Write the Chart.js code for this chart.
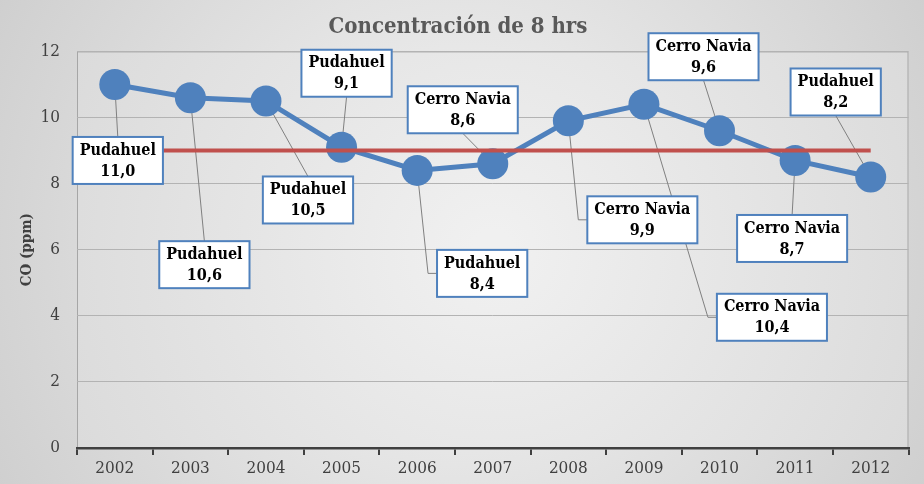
<!DOCTYPE html>
<html><head><meta charset="utf-8">
<script src="https://cdn.jsdelivr.net/npm/chart.js@4/dist/chart.umd.min.js"></script>
<style>html,body{margin:0;padding:0;background:#fff}#wrap{width:924px;height:484px}</style>
</head><body><div id="wrap"><canvas id="c" width="924" height="484"></canvas></div>
<script>
const years = ['2002','2003','2004','2005','2006','2007','2008','2009','2010','2011','2012'];
const coValues = [11.0, 10.6, 10.5, 9.1, 8.4, 8.6, 9.9, 10.4, 9.6, 8.7, 8.2];
const stations = ['Pudahuel','Pudahuel','Pudahuel','Pudahuel','Pudahuel','Cerro Navia','Cerro Navia','Cerro Navia','Cerro Navia','Cerro Navia','Pudahuel'];
const limitValues = [9, 9, 9, 9, 9, 9, 9, 9, 9, 9, 9];
const yTicks = [0, 2, 4, 6, 8, 10, 12];

// label box placement (pixel offset of box centre from its point) - style only
const labelOffsets = [[3,76],[14,167],[42,99],[5,-74],[65,103],[-30,-54],[74,99],[128,213],[-16,-74],[-3,78],[-35,-85]];

const SERIF = '"DejaVu Serif Condensed", "DejaVu Serif", serif';
const fmt = v => v.toFixed(1).replace('.', ',');

function boxFor(chart, i) {
  const meta = chart.getDatasetMeta(1);
  const p = meta.data[i];
  const ctx = chart.ctx;
  ctx.save();
  ctx.font = 'bold 16px ' + SERIF;
  const tw = Math.max(ctx.measureText(stations[i]).width, ctx.measureText(fmt(coValues[i])).width);
  ctx.restore();
  const w = tw + 14, h = 47;
  const cx = p.x + labelOffsets[i][0], cy = p.y + labelOffsets[i][1];
  return {p, x: cx - w / 2, y: cy - h / 2, w, h, cx, cy};
}

const bgPlugin = {
  id: 'bg',
  beforeDraw(chart) {
    const {ctx, width, height, chartArea: a} = chart;
    ctx.save();
    let g = ctx.createRadialGradient(width/2, height/2, 30, width/2, height/2, width*0.6);
    g.addColorStop(0, '#f3f3f3');
    g.addColorStop(1, '#cdcdcd');
    ctx.fillStyle = g;
    ctx.fillRect(0, 0, width, height);
    g = ctx.createRadialGradient((a.left+a.right)/2, (a.top+a.bottom)/2, 20, (a.left+a.right)/2, (a.top+a.bottom)/2, (a.right-a.left)*0.6);
    g.addColorStop(0, '#f0f0f0');
    g.addColorStop(1, '#d9d9d9');
    ctx.fillStyle = g;
    ctx.fillRect(a.left, a.top, a.right - a.left, a.bottom - a.top);
    ctx.strokeStyle = '#a6a6a6';
    ctx.lineWidth = 1;
    ctx.strokeRect(a.left + 0.5, a.top + 0.5, a.right - a.left - 1, a.bottom - a.top);
    ctx.restore();
  }
};

const labelPlugin = {
  id: 'callouts',
  beforeDatasetsDraw(chart) {
    const ctx = chart.ctx;
    ctx.save();
    ctx.strokeStyle = '#808080';
    ctx.lineWidth = 1;
    coValues.forEach((v, i) => {
      const b = boxFor(chart, i);
      const dx = b.cx - b.p.x;
      ctx.beginPath();
      ctx.moveTo(b.p.x, b.p.y);
      if (Math.abs(dx) > b.w / 2 + 4) {
        const edge = dx > 0 ? b.x : b.x + b.w;
        const elbow = edge - Math.sign(dx) * 9;
        ctx.lineTo(elbow, b.cy);
        ctx.lineTo(edge, b.cy);
      } else {
        const ey = b.cy > b.p.y ? b.y : b.y + b.h;
        ctx.lineTo(b.cx, ey);
      }
      ctx.stroke();
    });
    ctx.restore();
  },
  afterDatasetsDraw(chart) {
    const ctx = chart.ctx;
    ctx.save();
    coValues.forEach((v, i) => {
      const b = boxFor(chart, i);
      ctx.fillStyle = '#ffffff';
      ctx.fillRect(b.x, b.y, b.w, b.h);
      ctx.strokeStyle = '#4f81bd';
      ctx.lineWidth = 2;
      ctx.strokeRect(b.x, b.y, b.w, b.h);
      ctx.fillStyle = '#000000';
      ctx.font = 'bold 16px ' + SERIF;
      ctx.textAlign = 'center';
      ctx.textBaseline = 'middle';
      ctx.fillText(stations[i], b.cx, b.cy - 10);
      ctx.fillText(fmt(v), b.cx, b.cy + 11);
    });
    ctx.restore();
  }
};

new Chart(document.getElementById('c'), {
  type: 'line',
  data: {
    labels: years,
    datasets: [
      {
        label: 'Norma',
        data: limitValues,
        borderColor: '#c0504d',
        borderWidth: 4,
        pointRadius: 0,
        order: 0
      },
      {
        label: 'CO',
        data: coValues,
        borderColor: '#4f81bd',
        backgroundColor: '#4f81bd',
        borderWidth: 5,
        pointRadius: 15.5,
        pointBackgroundColor: '#4f81bd',
        pointBorderWidth: 0,
        order: 1
      }
    ]
  },
  options: {
    responsive: false,
    animation: false,
    devicePixelRatio: 1,
    layout: { padding: { left: 0, right: 8, top: 0, bottom: 0 } },
    plugins: {
      legend: { display: false },
      tooltip: { enabled: false },
      title: {
        display: true,
        text: 'Concentración de 8 hrs',
        color: '#595959',
        font: { family: SERIF, size: 22, weight: 'bold', lineHeight: 1.2 },
        padding: { top: 14, bottom: 11 }
      }
    },
    scales: {
      x: {
        offset: true,
        grid: { offset: true, drawOnChartArea: false, drawTicks: true, tickLength: 7, color: '#404040', lineWidth: 2 },
        border: { display: true, color: '#404040', width: 2.5 },
        ticks: { color: '#404040', font: { family: SERIF, size: 17 }, padding: 3, maxRotation: 0 },
        afterFit(s) { s.height = 36; }
      },
      y: {
        min: 0, max: 12,
        afterBuildTicks(s) { s.ticks = yTicks.map(v => ({ value: v })); },
        grid: { drawTicks: false, color: '#b3b3b3', lineWidth: 1 },
        border: { display: false },
        ticks: { color: '#404040', font: { family: SERIF, size: 17 }, padding: 17 },
        title: { display: true, text: 'CO (ppm)', color: '#404040', font: { family: SERIF, size: 15, weight: 'bold' }, padding: { top: 18, bottom: 0 } },
        afterFit(s) { s.width = 77; }
      }
    }
  },
  plugins: [bgPlugin, labelPlugin]
});
</script>
</body></html>
